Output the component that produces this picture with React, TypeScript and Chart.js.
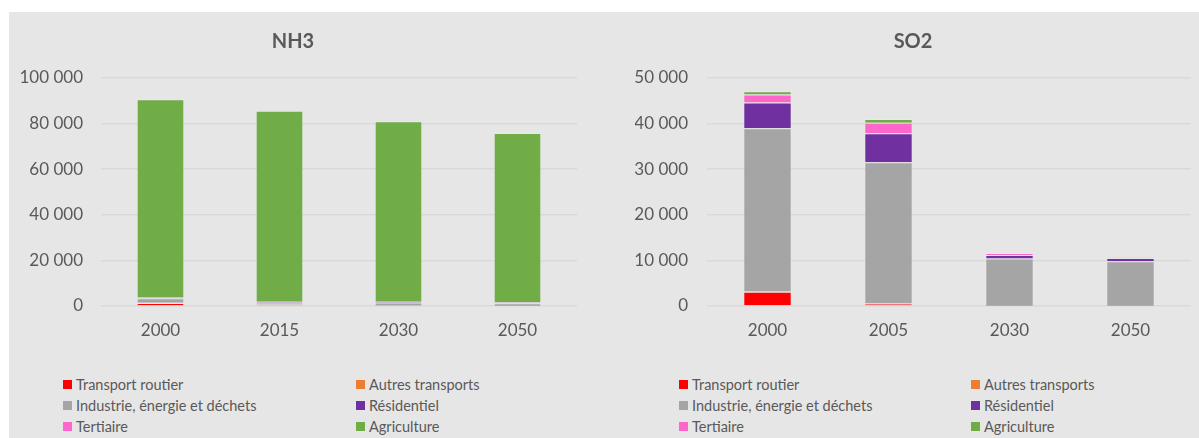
import React, { useEffect, useRef } from 'react';
import { Chart, registerables } from 'chart.js';

Chart.register(...registerables);

const FONT = 'Lato, "Noto Sans", sans-serif';
const TEXT = '#595959';

const SECTORS = [
  'Transport routier',
  'Autres transports',
  'Industrie, énergie et déchets',
  'Résidentiel',
  'Tertiaire',
  'Agriculture',
];
const SECTOR_COLORS = ['#FF0000', '#ED7D31', '#A5A5A5', '#7030A0', '#FF66CC', '#70AD47'];

// NH3
const NH3_YEARS = ['2000', '2015', '2030', '2050'];
const NH3_TRANSPORT_ROUTIER = [1300, 600, 200, 100];
const NH3_AUTRES_TRANSPORTS = [100, 50, 50, 50];
const NH3_INDUSTRIE = [2000, 900, 1300, 1100];
const NH3_RESIDENTIEL = [400, 300, 300, 300];
const NH3_TERTIAIRE = [50, 50, 50, 50];
const NH3_AGRICULTURE = [86850, 83700, 79100, 74300];
const NH3_MAX = 100000;
const NH3_STEP = 20000;

// SO2
const SO2_YEARS = ['2000', '2005', '2030', '2050'];
const SO2_TRANSPORT_ROUTIER = [3100, 500, 50, 30];
const SO2_AUTRES_TRANSPORTS = [100, 150, 20, 20];
const SO2_INDUSTRIE = [35800, 30850, 10330, 9750];
const SO2_RESIDENTIEL = [5600, 6400, 800, 700];
const SO2_TERTIAIRE = [1800, 2300, 400, 100];
const SO2_AGRICULTURE = [700, 800, 50, 50];
const SO2_MAX = 50000;
const SO2_STEP = 10000;

const fmt = (v: number) => String(v).replace(/\B(?=(\d{3})+(?!\d))/g, ' ');

type Spec = {
  title: string;
  labels: string[];
  series: number[][];
  max: number;
  step: number;
  left: number;
  width: number;
  axisWidth: number;
  tickPad: number;
  padRight: number;
};

const CANVAS_TOP = 12;
const CANVAS_H = 334;

function StackedChart({ spec }: { spec: Spec }) {
  const ref = useRef<HTMLCanvasElement>(null);
  useEffect(() => {
    const chart = new Chart(ref.current!, {
      type: 'bar',
      data: {
        labels: spec.labels,
        datasets: SECTORS.map((name, i) => ({
          label: name,
          data: spec.series[i],
          backgroundColor: SECTOR_COLORS[i],
          borderColor: 'rgba(255,255,255,0.15)',
          borderWidth: 1,
          barPercentage: 0.8,
          categoryPercentage: 0.5,
        })),
      },
      options: {
        responsive: false,
        animation: false,
        devicePixelRatio: 1,
        layout: { padding: { left: 0, right: spec.padRight, top: 0, bottom: 0 } },
        plugins: {
          legend: { display: false },
          tooltip: { enabled: false },
          title: {
            display: true,
            text: spec.title,
            color: TEXT,
            font: { family: FONT, size: 20, weight: 'bold' },
            padding: { top: 18, bottom: 24 },
          },
        },
        scales: {
          x: {
            stacked: true,
            grid: { display: false, drawTicks: false },
            border: { display: false },
            ticks: { color: TEXT, font: { family: FONT, size: 17 }, padding: 14 },
            afterFit: (s: any) => {
              s.height = 40;
            },
          },
          y: {
            stacked: true,
            min: 0,
            max: spec.max,
            ticks: {
              stepSize: spec.step,
              color: TEXT,
              font: { family: FONT, size: 17 },
              padding: spec.tickPad,
              callback: (v: any) => fmt(Number(v)),
            },
            grid: { color: '#d9d9d9', lineWidth: 1.5, drawTicks: false },
            border: { display: false },
            afterFit: (s: any) => {
              s.width = spec.axisWidth;
            },
          },
        },
      } as any,
    });
    return () => chart.destroy();
  }, []);
  return (
    <canvas
      ref={ref}
      width={spec.width}
      height={CANVAS_H}
      style={{ position: 'absolute', left: spec.left, top: CANVAS_TOP, width: spec.width, height: CANVAS_H }}
    />
  );
}

function Legend({ col1, col2 }: { col1: number; col2: number }) {
  const rows = [384, 405, 426];
  return (
    <>
      {SECTORS.map((name, i) => {
        const x = i % 2 === 0 ? col1 : col2;
        const y = rows[Math.floor(i / 2)];
        return (
          <div
            key={name}
            style={{
              position: 'absolute',
              left: x,
              top: y - 10,
              height: 20,
              display: 'flex',
              alignItems: 'center',
              whiteSpace: 'nowrap',
              fontFamily: FONT,
              fontSize: 14.5,
              color: TEXT,
            }}
          >
            <span style={{ display: 'inline-block', width: 9, height: 9, background: SECTOR_COLORS[i], marginRight: 4 }} />
            <span>{name}</span>
          </div>
        );
      })}
    </>
  );
}

export default function App() {
  const nh3: Spec = {
    title: 'NH3',
    labels: NH3_YEARS,
    series: [NH3_TRANSPORT_ROUTIER, NH3_AUTRES_TRANSPORTS, NH3_INDUSTRIE, NH3_RESIDENTIEL, NH3_TERTIAIRE, NH3_AGRICULTURE],
    max: NH3_MAX,
    step: NH3_STEP,
    left: 9,
    width: 587,
    axisWidth: 92,
    tickPad: 18,
    padRight: 19,
  };
  const so2: Spec = {
    title: 'SO2',
    labels: SO2_YEARS,
    series: [SO2_TRANSPORT_ROUTIER, SO2_AUTRES_TRANSPORTS, SO2_INDUSTRIE, SO2_RESIDENTIEL, SO2_TERTIAIRE, SO2_AGRICULTURE],
    max: SO2_MAX,
    step: SO2_STEP,
    left: 635,
    width: 564,
    axisWidth: 72,
    tickPad: 19,
    padRight: 8,
  };
  return (
    <div style={{ position: 'absolute', left: 0, top: 0, width: 1199, height: 438, background: '#ffffff', overflow: 'hidden' }}>
      <div style={{ position: 'absolute', left: 9, top: 12, width: 1190, height: 426, background: '#e7e6e6' }} />
      <StackedChart spec={nh3} />
      <StackedChart spec={so2} />
      <Legend col1={63} col2={356} />
      <Legend col1={679} col2={971} />
    </div>
  );
}
